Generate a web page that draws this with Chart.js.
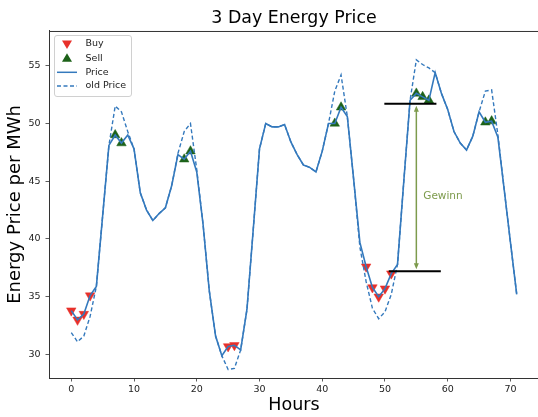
<!DOCTYPE html>
<html>
<head>
<meta charset="utf-8">
<title>3 Day Energy Price</title>
<script src="https://cdn.jsdelivr.net/npm/chart.js@4/dist/chart.umd.min.js"></script>
<style>
    html, body { margin: 0; padding: 0; background: #fff; overflow: hidden; }
    canvas { display: block; }
</style>
</head>
<body>
<canvas id="priceChart" width="540" height="417"></canvas>
<script>
// Hourly price (index = hour)
const price = [
    33.8, 33.0, 33.5, 35.1, 35.9, 42.0, 48.1, 49.0, 48.3, 49.0,
    47.8, 44.0, 42.5, 41.6, 42.2, 42.7, 44.6, 47.3, 46.9, 47.6,
    45.8, 41.3, 35.5, 31.6, 29.9, 30.7, 30.8, 30.4, 33.9, 40.8,
    47.8, 50.0, 49.7, 49.7, 49.9, 48.4, 47.3, 46.4, 46.2, 45.8,
    47.6, 50.0, 50.0, 51.4, 50.6, 45.2, 39.7, 37.6, 35.8, 35.0,
    35.7, 37.0, 37.8, 45.0, 52.0, 52.6, 52.3, 52.0, 54.4, 52.6,
    51.2, 49.3, 48.3, 47.7, 48.9, 51.0, 50.1, 50.2, 48.8, 44.3,
    39.7, 35.2
];
// Price before shifting
const oldPrice = [
    31.9, 31.1, 31.6, 33.3, 35.9, 42.0, 48.1, 51.5, 51.0, 49.3,
    47.8, 44.0, 42.5, 41.6, 42.2, 42.7, 44.6, 47.4, 49.3, 50.0,
    46.0, 41.3, 35.5, 31.6, 29.9, 28.7, 28.8, 30.4, 33.9, 40.8,
    47.8, 50.0, 49.7, 49.7, 49.9, 48.4, 47.3, 46.4, 46.2, 45.8,
    47.6, 50.0, 52.8, 54.2, 50.6, 45.2, 39.3, 36.3, 34.0, 33.1,
    33.7, 35.2, 37.8, 45.0, 52.0, 55.5, 55.1, 54.8, 54.4, 52.6,
    51.2, 49.3, 48.3, 47.7, 48.9, 51.0, 52.8, 52.9, 49.0, 44.3,
    39.7, 35.2
];
const buyHours = [0, 1, 2, 3, 25, 26, 47, 48, 49, 50, 51];
const sellHours = [7, 8, 18, 19, 42, 43, 55, 56, 57, 66, 67];

const xTicks = [0, 10, 20, 30, 40, 50, 60, 70];
const yTicks = [30, 35, 40, 45, 50, 55];

// "Gewinn" annotation (data coordinates)
const buyLevel = 37.2;
const sellLevel = 51.7;
const buyLineHours = [50.6, 58.9];
const sellLineHours = [49.9, 58.2];
const arrowHour = 55.0;
const gewinnPos = [56.1, 43.7];

const FONT = "'DejaVu Sans', sans-serif";
const blue = '#3479bd';
const red = '#e8302a';
const green = '#1d6219';
const olive = '#7d9b4d';

Chart.defaults.font.family = FONT;

const toPoints = (arr) => arr.map((v, i) => ({ x: i, y: v }));

// Draws the top spine, the Gewinn annotation and the legend box
const extras = {
    id: 'extras',
    afterDatasetsDraw(chart) {
        const ctx = chart.ctx;
        const xs = chart.scales.x;
        const ys = chart.scales.y;
        const area = chart.chartArea;
        ctx.save();

        // top spine
        ctx.strokeStyle = '#333';
        ctx.lineWidth = 1;
        ctx.beginPath();
        ctx.moveTo(area.left, area.top + 0.5);
        ctx.lineTo(area.right, area.top + 0.5);
        ctx.stroke();

        // buy / sell level lines
        ctx.strokeStyle = '#000';
        ctx.lineWidth = 2;
        ctx.beginPath();
        ctx.moveTo(xs.getPixelForValue(sellLineHours[0]), ys.getPixelForValue(sellLevel));
        ctx.lineTo(xs.getPixelForValue(sellLineHours[1]), ys.getPixelForValue(sellLevel));
        ctx.moveTo(xs.getPixelForValue(buyLineHours[0]), ys.getPixelForValue(buyLevel));
        ctx.lineTo(xs.getPixelForValue(buyLineHours[1]), ys.getPixelForValue(buyLevel));
        ctx.stroke();

        // double arrow
        const ax = xs.getPixelForValue(arrowHour);
        const yTop = ys.getPixelForValue(sellLevel) + 2;
        const yBot = ys.getPixelForValue(buyLevel) - 2;
        ctx.strokeStyle = olive;
        ctx.fillStyle = olive;
        ctx.lineWidth = 1.5;
        ctx.beginPath();
        ctx.moveTo(ax, yTop + 4);
        ctx.lineTo(ax, yBot - 4);
        ctx.stroke();
        ctx.beginPath();
        ctx.moveTo(ax, yTop);
        ctx.lineTo(ax - 2.5, yTop + 6);
        ctx.lineTo(ax + 2.5, yTop + 6);
        ctx.closePath();
        ctx.moveTo(ax, yBot);
        ctx.lineTo(ax - 2.5, yBot - 6);
        ctx.lineTo(ax + 2.5, yBot - 6);
        ctx.closePath();
        ctx.fill();

        ctx.font = '10.5px ' + FONT;
        ctx.textAlign = 'left';
        ctx.textBaseline = 'middle';
        ctx.fillText('Gewinn', xs.getPixelForValue(gewinnPos[0]), ys.getPixelForValue(gewinnPos[1]));

        // legend
        const lx = 54.5, ly = 35.5, lw = 77, lh = 61;
        ctx.fillStyle = 'rgba(255,255,255,0.8)';
        ctx.strokeStyle = '#d0d0d0';
        ctx.lineWidth = 1;
        ctx.beginPath();
        ctx.roundRect(lx, ly, lw, lh, 2.5);
        ctx.fill();
        ctx.stroke();

        const rows = [44, 58.3, 72.3, 86];
        const hx = 67;
        const tx = 85.5;
        // Buy
        ctx.fillStyle = red;
        ctx.beginPath();
        ctx.moveTo(hx - 5, rows[0] - 3.5);
        ctx.lineTo(hx + 5, rows[0] - 3.5);
        ctx.lineTo(hx, rows[0] + 5);
        ctx.closePath();
        ctx.fill();
        // Sell
        ctx.fillStyle = green;
        ctx.beginPath();
        ctx.moveTo(hx - 5, rows[1] + 3.5);
        ctx.lineTo(hx + 5, rows[1] + 3.5);
        ctx.lineTo(hx, rows[1] - 5);
        ctx.closePath();
        ctx.fill();
        // Price
        ctx.strokeStyle = blue;
        ctx.lineWidth = 1.5;
        ctx.beginPath();
        ctx.moveTo(57, rows[2]);
        ctx.lineTo(77, rows[2]);
        ctx.stroke();
        // old Price
        ctx.setLineDash([4, 2.5]);
        ctx.beginPath();
        ctx.moveTo(57, rows[3]);
        ctx.lineTo(77, rows[3]);
        ctx.stroke();
        ctx.setLineDash([]);

        ctx.fillStyle = '#222';
        ctx.font = '9.5px ' + FONT;
        ['Buy', 'Sell', 'Price', 'old Price'].forEach((t, i) => ctx.fillText(t, tx, rows[i]));

        ctx.restore();
    }
};

const ctx = document.getElementById('priceChart').getContext('2d');
new Chart(ctx, {
    type: 'line',
    data: {
        datasets: [
            {
                label: 'Price',
                data: toPoints(price),
                borderColor: blue,
                borderWidth: 1.6,
                pointRadius: 0,
                tension: 0,
                fill: false,
                order: 0
            },
            {
                label: 'old Price',
                data: toPoints(oldPrice),
                borderColor: blue,
                borderWidth: 1.4,
                borderDash: [4, 2.5],
                pointRadius: 0,
                tension: 0,
                fill: false,
                order: 1
            },
            {
                label: 'Buy',
                data: buyHours.map(h => ({ x: h, y: price[h] })),
                showLine: false,
                pointStyle: 'triangle',
                rotation: 180,
                pointRadius: 5.5,
                backgroundColor: red,
                borderColor: red,
                borderWidth: 0.5,
                order: 2
            },
            {
                label: 'Sell',
                data: sellHours.map(h => ({ x: h, y: price[h] })),
                showLine: false,
                pointStyle: 'triangle',
                pointRadius: 5.5,
                backgroundColor: green,
                borderColor: green,
                borderWidth: 0.5,
                order: 3
            }
        ]
    },
    options: {
        responsive: false,
        animation: false,
        events: [],
        layout: { autoPadding: false, padding: { left: 0, right: 1, top: 0, bottom: 0 } },
        plugins: {
            legend: { display: false },
            tooltip: { enabled: false },
            title: {
                display: true,
                text: '3 Day Energy Price',
                fullSize: false,
                color: '#000',
                font: { family: FONT, size: 17.4, weight: 'normal', lineHeight: 1.2 },
                padding: { top: 8.5, bottom: 1.6 }
            }
        },
        scales: {
            x: {
                type: 'linear',
                min: -3.55,
                max: 74.55,
                afterBuildTicks: s => { s.ticks = xTicks.map(v => ({ value: v })); },
                afterFit: s => { s.height = 39; },
                grid: { display: true, drawOnChartArea: false, drawTicks: true, tickLength: 3.5, color: '#333', tickWidth: 0.8 },
                border: { display: true, color: '#333', width: 1 },
                ticks: { color: '#222', font: { size: 9.5 }, padding: 2.5, maxRotation: 0, autoSkip: false },
                title: {
                    display: true,
                    text: 'Hours',
                    color: '#000',
                    font: { size: 17.5, lineHeight: 1.2 },
                    padding: { top: 0, bottom: 1.5 }
                }
            },
            y: {
                type: 'linear',
                min: 27.97,
                max: 58.0,
                afterBuildTicks: s => { s.ticks = yTicks.map(v => ({ value: v })); },
                afterFit: s => { s.width = 49; },
                grid: { display: true, drawOnChartArea: false, drawTicks: true, tickLength: 3.5, color: '#333', tickWidth: 0.8 },
                border: { display: true, color: '#333', width: 1 },
                ticks: { color: '#222', font: { size: 9.5 }, padding: 5 },
                title: {
                    display: true,
                    text: 'Energy Price per MWh',
                    color: '#000',
                    font: { size: 18, lineHeight: 1.2 },
                    padding: { top: 5, bottom: 0 }
                }
            }
        }
    },
    plugins: [extras]
});
</script>
</body>
</html>
